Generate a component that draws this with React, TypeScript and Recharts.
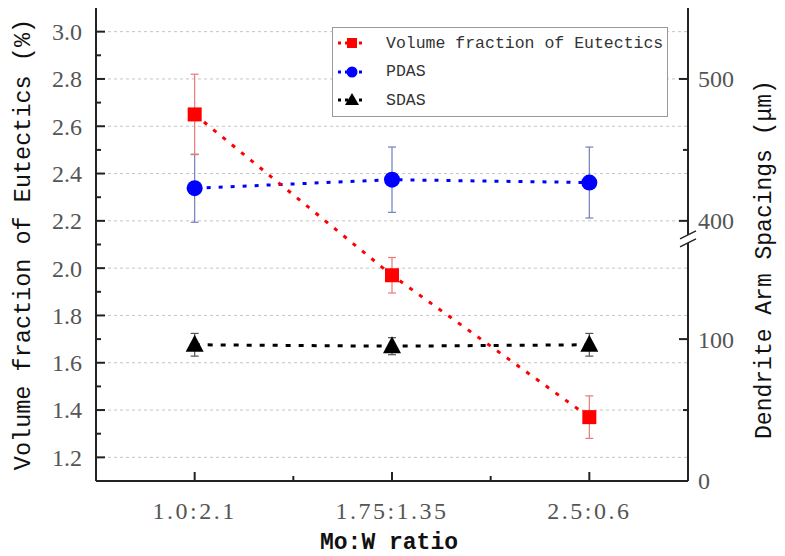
import React from "react";
import { ComposedChart, Line, XAxis, YAxis, ErrorBar, ReferenceLine, Legend } from "recharts";

const ratios = ["1.0:2.1", "1.75:1.35", "2.5:0.6"];
const eutectics = [2.65, 1.97, 1.37];
const eutecticsErr = [0.17, 0.075, 0.09];
const pdas = [423, 429, 427];
const pdasErr = [24, 23, 25];
const sdas = [96, 95, 96];
const sdasErr = [8, 6, 8];

const leftTicks = [1.2, 1.3, 1.4, 1.5, 1.6, 1.7, 1.8, 1.9, 2.0, 2.1, 2.2, 2.3, 2.4, 2.5, 2.6, 2.7, 2.8, 2.9, 3.0];
const gridValues = [1.2, 1.4, 1.6, 1.8, 2.0, 2.2, 2.4, 2.6, 2.8, 3.0];
const rightTicks = [0, 50, 100, 400, 450, 500];
const xTicks = [1, 1.5, 2, 2.5, 3];

// right axis has a break: roughly 167..383 is cut out
const GAP = 650 / 3;
const toRight = (v: number) => (v > 250 ? v - GAP : v);
const fromRight = (v: number) => (v > 160 ? v + GAP : v);

const data = ratios.map((r, i) => ({
  pos: i + 1,
  ratio: r,
  eut: eutectics[i],
  eutErr: eutecticsErr[i],
  pdas: toRight(pdas[i]),
  pdasErr: pdasErr[i],
  sdas: sdas[i],
  sdasErr: sdasErr[i],
}));

const NUM_FONT = "'Liberation Serif', 'Times New Roman', serif";
const TXT_FONT = "'Liberation Mono', monospace";
const AXIS = "#222";
// tick props come in offset by tickSize + tickMargin from the axis line
const OFF = 8;

const LeftTick = (props: any) => {
  const { payload } = props;
  const x = props.x + OFF;
  const y = props.y;
  const major = Math.round(payload.value * 10) % 2 === 0;
  return (
    <g>
      <line x1={x} x2={x + (major ? 9 : 5)} y1={y} y2={y} stroke={AXIS} strokeWidth={2} />
      {major && (
        <text x={x - 14} y={y} dy="0.35em" textAnchor="end" fontFamily={NUM_FONT} fontSize={24} fill="#555">
          {payload.value.toFixed(1)}
        </text>
      )}
    </g>
  );
};

const RightTick = (props: any) => {
  const { payload } = props;
  const x = props.x - OFF;
  const y = props.y;
  const v = Math.round(fromRight(payload.value));
  const major = v % 100 === 0;
  const c = y + 18;
  return (
    <g>
      <line x1={x} x2={x - (major ? 9 : 5)} y1={y} y2={y} stroke={AXIS} strokeWidth={2} />
      {major && (
        <text x={x + 10} y={y} dy="0.35em" textAnchor="start" fontFamily={NUM_FONT} fontSize={24} fill="#555">
          {v}
        </text>
      )}
      {v === 400 && (
        <g>
          <polygon points={`${x - 8},${c} ${x + 8},${c - 8} ${x + 8},${c} ${x - 8},${c + 8}`} fill="#fff" />
          <line x1={x - 8} y1={c} x2={x + 8} y2={c - 8} stroke={AXIS} strokeWidth={1.5} />
          <line x1={x - 8} y1={c + 8} x2={x + 8} y2={c} stroke={AXIS} strokeWidth={1.5} />
        </g>
      )}
    </g>
  );
};

const BottomTick = (props: any) => {
  const { payload } = props;
  const x = props.x;
  const y = props.y - OFF;
  const major = Number.isInteger(payload.value);
  return (
    <g>
      <line x1={x} x2={x} y1={y} y2={y - (major ? 9 : 5)} stroke={AXIS} strokeWidth={2} />
      {major && (
        <text x={x} y={y + 30} dy="0.35em" textAnchor="middle" fontFamily={NUM_FONT} fontSize={24} letterSpacing={2.5} fill="#555">
          {ratios[payload.value - 1]}
        </text>
      )}
    </g>
  );
};

const TopTick = (props: any) => {
  const x = props.x;
  const y = props.y + OFF;
  return <line x1={x} x2={x} y1={y} y2={y + 6} stroke={AXIS} strokeWidth={2} />;
};

const Square = (props: any) => (
  <rect key={`sq-${props.index}`} x={props.cx - 7} y={props.cy - 7} width={14} height={14} fill="#ff0000" />
);
const Circle = (props: any) => (
  <circle key={`ci-${props.index}`} cx={props.cx} cy={props.cy} r={8} fill="#0000ff" />
);
const Triangle = (props: any) => (
  <polygon
    key={`tr-${props.index}`}
    points={`${props.cx},${props.cy - 10} ${props.cx - 9},${props.cy + 7} ${props.cx + 9},${props.cy + 7}`}
    fill="#000"
  />
);

const legendItems = [
  { name: "Volume fraction of Eutectics", color: "#ff0000", shape: "square" },
  { name: "PDAS", color: "#0000ff", shape: "circle" },
  { name: "SDAS", color: "#000000", shape: "triangle" },
];

const LegendIcon = ({ color, shape }: { color: string; shape: string }) => (
  <svg width={34} height={16}>
    <line x1={3} x2={31} y1={8} y2={8} stroke={color} strokeWidth={3} strokeDasharray="3 4" />
    {shape === "square" && <rect x={12} y={3} width={10} height={10} fill={color} />}
    {shape === "circle" && <circle cx={17} cy={8} r={5.5} fill={color} />}
    {shape === "triangle" && <polygon points="17,1 10,13 24,13" fill={color} />}
  </svg>
);

const LegendBox = () => (
  <div
    style={{
      width: 336,
      height: 90,
      boxSizing: "border-box",
      border: "1.5px solid #999",
      background: "#fff",
      paddingTop: 1,
    }}
  >
    {legendItems.map((it) => (
      <div key={it.name} style={{ display: "flex", alignItems: "center", height: 28.5 }}>
        <div style={{ marginLeft: 2, width: 34, height: 16 }}>
          <LegendIcon color={it.color} shape={it.shape} />
        </div>
        <span style={{ marginLeft: 17, fontFamily: TXT_FONT, fontSize: 16.5, color: "#333" }}>{it.name}</span>
      </div>
    ))}
  </div>
);

const leftTitle = (props: any) => {
  const vb = props.viewBox;
  const cx = vb.x + 22;
  const cy = vb.y + vb.height / 2;
  return (
    <text x={cx} y={cy} transform={`rotate(-90 ${cx} ${cy})`} textAnchor="middle" dy="0.35em" fontFamily={TXT_FONT} fontSize={23.5} fill="#111">
      Volume fraction of Eutectics (%)
    </text>
  );
};

const rightTitle = (props: any) => {
  const vb = props.viewBox;
  const cx = vb.x + 75;
  const cy = vb.y + vb.height / 2 + 15;
  return (
    <text x={cx} y={cy} transform={`rotate(-90 ${cx} ${cy})`} textAnchor="middle" dy="0.35em" fontFamily={TXT_FONT} fontSize={23} fill="#111">
      Dendrite Arm Spacings (μm)
    </text>
  );
};

const bottomTitle = (props: any) => {
  const vb = props.viewBox;
  return (
    <text x={vb.x + vb.width / 2 - 3} y={vb.y + 60} textAnchor="middle" dy="0.35em" fontFamily={TXT_FONT} fontWeight="bold" fontSize={23} fill="#111">
      Mo:W ratio
    </text>
  );
};

export default function App() {
  return (
    <div style={{ position: "absolute", left: 0, top: 0, background: "#fff" }}>
      <ComposedChart width={785} height={556} data={data} margin={{ top: 8, right: 0, bottom: 0, left: 0 }}>
        <XAxis
          xAxisId="x"
          dataKey="pos"
          type="number"
          domain={[0.5, 3.5]}
          ticks={xTicks}
          interval={0}
          height={75}
          tickSize={6}
          tickMargin={2}
          tickLine={false}
          axisLine={{ stroke: AXIS, strokeWidth: 2 }}
          tick={<BottomTick />}
          label={{ content: bottomTitle }}
        />
        <XAxis
          xAxisId="top"
          orientation="top"
          dataKey="pos"
          type="number"
          domain={[0.5, 3.5]}
          ticks={[1, 2, 3]}
          interval={0}
          height={0}
          tickSize={6}
          tickMargin={2}
          tickLine={false}
          axisLine={{ stroke: AXIS, strokeWidth: 2 }}
          tick={<TopTick />}
        />
        <YAxis
          yAxisId="left"
          type="number"
          domain={[1.1, 3.1]}
          ticks={leftTicks}
          interval={0}
          width={96}
          tickSize={6}
          tickMargin={2}
          tickLine={false}
          axisLine={{ stroke: AXIS, strokeWidth: 2 }}
          tick={<LeftTick />}
          label={{ content: leftTitle }}
        />
        <YAxis
          yAxisId="right"
          orientation="right"
          type="number"
          domain={[0, 1000 / 3]}
          ticks={rightTicks.map(toRight)}
          interval={0}
          width={97}
          tickSize={6}
          tickMargin={2}
          tickLine={false}
          axisLine={{ stroke: AXIS, strokeWidth: 2 }}
          tick={<RightTick />}
          label={{ content: rightTitle }}
        />
        {gridValues.map((v) => (
          <ReferenceLine key={v} xAxisId="x" yAxisId="left" y={v} stroke="#c4c4c4" strokeDasharray="3 3" />
        ))}
        <Line
          xAxisId="x"
          yAxisId="right"
          dataKey="sdas"
          type="linear"
          stroke="#000"
          strokeWidth={3}
          strokeDasharray="5 8"
          dot={Triangle}
          activeDot={false}
          isAnimationActive={false}
        >
          <ErrorBar dataKey="sdasErr" width={4} stroke="#555" strokeWidth={1.2} direction="y" />
        </Line>
        <Line
          xAxisId="x"
          yAxisId="right"
          dataKey="pdas"
          type="linear"
          stroke="#0000ff"
          strokeWidth={3}
          strokeDasharray="4 8"
          dot={Circle}
          activeDot={false}
          isAnimationActive={false}
        >
          <ErrorBar dataKey="pdasErr" width={4} stroke="#7080c0" strokeWidth={1.2} direction="y" />
        </Line>
        <Line
          xAxisId="x"
          yAxisId="left"
          dataKey="eut"
          type="linear"
          stroke="#ff0000"
          strokeWidth={3}
          strokeDasharray="4 8"
          dot={Square}
          activeDot={false}
          isAnimationActive={false}
        >
          <ErrorBar dataKey="eutErr" width={4} stroke="#ee7777" strokeWidth={1.2} direction="y" />
        </Line>
        <Legend
          verticalAlign="middle"
          align="center"
          layout="horizontal"
          content={() => <LegendBox />}
          wrapperStyle={{ left: 332, top: 27, width: 336, height: 90 }}
        />
      </ComposedChart>
    </div>
  );
}
